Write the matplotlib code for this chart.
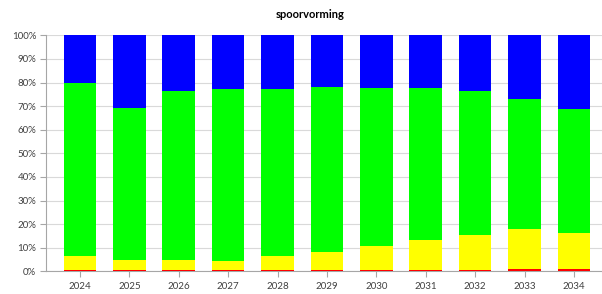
import matplotlib
matplotlib.use("Agg")
import matplotlib.pyplot as plt
import numpy as np

years = ["2024", "2025", "2026", "2027", "2028", "2029", "2030", "2031", "2032", "2033", "2034"]
red = [0.6, 0.4, 0.4, 0.4, 0.4, 0.6, 0.6, 0.7, 0.7, 0.9, 0.9]
yellow_top = [6.6, 4.7, 4.8, 4.2, 6.6, 8.2, 10.7, 13.4, 15.4, 17.8, 16.4]
green_top = [79.8, 69.2, 76.4, 77.4, 77.4, 78.2, 77.7, 77.7, 76.5, 73.1, 68.8]

red = np.array(red)
yellow = np.array(yellow_top) - red
green = np.array(green_top) - np.array(yellow_top)
blue = 100 - np.array(green_top)

plt.rcParams['font.family'] = ['Lato', 'DejaVu Sans']

fig = plt.figure(figsize=(6.02, 2.94), dpi=100)
W, H = 602, 294
ax = fig.add_axes([46 / W, (H - 271.3) / H, (602 - 46) / W, 236 / H])

x = np.arange(len(years))
w = 0.66
bottom = np.zeros(len(years))
for vals, col in [(red, "#FF0000"), (yellow, "#FFFF00"), (green, "#00FF00"), (blue, "#0000FF")]:
    ax.bar(x, vals, w, bottom=bottom, color=col, zorder=3)
    bottom = bottom + vals

ax.set_xlim(-0.688, 10.567)
ax.set_ylim(0, 100)
ax.set_yticks(np.arange(0, 101, 10))
ax.set_yticklabels([f"{v}%" for v in range(0, 101, 10)])
ax.set_xticks(x)
ax.set_xticklabels(years)
ax.grid(axis="y", color="#d9d9d9", linewidth=0.8, zorder=0)
for s in ["top", "right"]:
    ax.spines[s].set_visible(False)
for s in ["left", "bottom"]:
    ax.spines[s].set_color("#a6a6a6")
    ax.spines[s].set_linewidth(0.8)
ax.tick_params(axis="both", colors="#a6a6a6", labelcolor="#404040", labelsize=7, length=4, width=0.8)
ax.tick_params(axis="x", pad=4)
ax.tick_params(axis="y", pad=3)

fig.text(310 / W, 1 - 15 / H, "spoorvorming", ha="center", va="center", fontsize=8, fontweight="bold", color="#000000")

fig.savefig("out.png", dpi=100)
